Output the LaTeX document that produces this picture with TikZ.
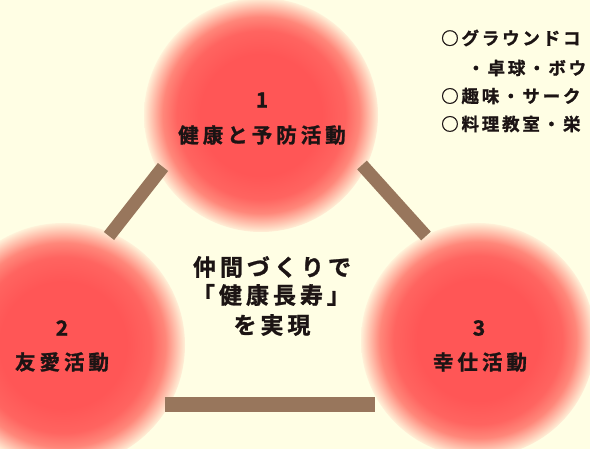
\documentclass[tikz,border=0pt]{standalone}
\usepackage{fontspec}
\newfontfamily\jp{Noto Sans CJK JP Bold}[FakeBold=1.2]
\newdimen\lsamt
\def\spaced#1#2{\lsamt=#1\relax\spacedaux#2\relax}
\def\spacedaux#1{\ifx#1\relax\unskip\else#1\hskip\lsamt\relax\expandafter\spacedaux\fi}
\definecolor{bg}{RGB}{255,254,228}
\definecolor{red1}{RGB}{255,86,86}
\definecolor{redm}{RGB}{255,100,96}
\definecolor{redq}{RGB}{255,135,122}
\definecolor{redl}{RGB}{255,200,180}
\definecolor{barc}{RGB}{152,118,92}
\definecolor{ink}{RGB}{28,20,20}
\pgfdeclareradialshading{ball}{\pgfpointorigin}{color(0bp)=(red1); color(13bp)=(red1); color(18bp)=(redm); color(21bp)=(redq); color(23.5bp)=(redl); color(25.5bp)=(bg); color(50bp)=(bg)}
\tikzset{
  ballnode/.style={circle, inner sep=0pt, draw=none, shade, shading=ball},
  barline/.style={line width=13pt, draw=barc, line cap=butt},
  numtxt/.style={font=\jp\fontsize{21}{21}\selectfont, text=ink, inner sep=0pt},
  lbltxt/.style={font=\jp\fontsize{20.5}{20.5}\selectfont, text=ink, inner sep=0pt},
  midtxt/.style={font=\jp\fontsize{23}{29}\selectfont, text=ink, inner sep=0pt, align=center},
  sidetxt/.style={font=\jp\fontsize{17.5}{17.5}\selectfont, text=ink, inner sep=0pt, anchor=west}
}
\begin{document}
\begin{tikzpicture}[x=1pt,y=-1pt]
\useasboundingbox (0,0) rectangle (590,449);
\clip (0,0) rectangle (590,449);
\fill[bg] (0,0) rectangle (590,449);
% circles
\node[ballnode, minimum size=234pt] (c1) at (261,115) {};
\node[ballnode, minimum size=244pt] (c2) at (63,345) {};
\node[ballnode, minimum size=234pt] (c3) at (478,340) {};
% bars
\coordinate (b1a) at (109,236);
\coordinate (b1b) at (163,167);
\coordinate (b2a) at (362,165);
\coordinate (b2b) at (426,236);
\coordinate (b3a) at (165,404.5);
\coordinate (b3b) at (375,404.5);
\draw[barline] (b1a) -- (b1b);
\draw[barline] (b2a) -- (b2b);
\draw[barline, line width=14.5pt] (b3a) -- (b3b);
% labels
\node[numtxt] (n1) at (262,100) {1};
\node[lbltxt] (l1) at (262,135) {\spaced{4pt}{健康と予防活動}};
\node[numtxt] (n2) at (62,328) {2};
\node[lbltxt] (l2) at (62,362) {\spaced{4pt}{友愛活動}};
\node[numtxt] (n3) at (479,328) {3};
\node[lbltxt] (l3) at (480,362) {\spaced{4pt}{幸仕活動}};
% center text
\node[midtxt] (m1) at (272,267) {\spaced{4pt}{仲間づくりで}};
\node[midtxt] (m2) at (271,295) {\spaced{4pt}{「健康長寿」}};
\node[midtxt] (m3) at (272,325) {\spaced{4pt}{を実現}};
% side list
\node[sidetxt] (s1) at (441,38) {\spaced{2.8pt}{○グラウンドコ}};
\node[sidetxt] (s2) at (467,68) {\spaced{2.8pt}{・卓球・ボウ}};
\node[sidetxt] (s3) at (441,96) {\spaced{2.8pt}{○趣味・サーク}};
\node[sidetxt] (s4) at (441,124) {\spaced{2.8pt}{○料理教室・栄}};
\end{tikzpicture}
\end{document}
